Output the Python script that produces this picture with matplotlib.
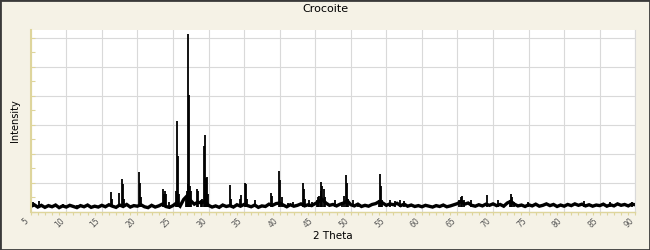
import numpy as np
import matplotlib
matplotlib.use('Agg')
import matplotlib.pyplot as plt
from matplotlib.patches import Rectangle
from matplotlib.ticker import MultipleLocator

# -----------------------------------------------------------------------------
# Crocoite powder pattern (intensity in grid units)
# -----------------------------------------------------------------------------

# background trace, every 0.5 deg from 5 to 90
base_theta = np.arange(5.0, 90.01, 0.5)
base_int = [
    0.18, 0.24, 0.16, 0.22, 0.15, 0.21, 0.17, 0.23, 0.14, 0.20,
    0.16, 0.22, 0.18, 0.14, 0.21, 0.17, 0.23, 0.15, 0.19, 0.16,
    0.22, 0.17, 0.24, 0.19, 0.15, 0.23, 0.18, 0.25, 0.16, 0.21,
    0.19, 0.24, 0.17, 0.14, 0.22, 0.16, 0.20, 0.26, 0.18, 0.15,
    0.21, 0.30, 0.19, 0.42, 0.55, 0.38, 0.26, 0.33, 0.30, 0.36,
    0.22, 0.16, 0.20, 0.15, 0.23, 0.18, 0.21, 0.16, 0.24, 0.19,
    0.25, 0.21, 0.17, 0.23, 0.15, 0.20, 0.18, 0.26, 0.22, 0.28,
    0.30, 0.23, 0.17, 0.24, 0.19, 0.22, 0.27, 0.20, 0.24, 0.21,
    0.28, 0.35, 0.42, 0.30, 0.22, 0.25, 0.20, 0.26, 0.30, 0.38,
    0.24, 0.20, 0.26, 0.18, 0.22, 0.19, 0.25, 0.28, 0.35, 0.30,
    0.22, 0.27, 0.24, 0.29, 0.21, 0.26, 0.19, 0.23, 0.18, 0.21,
    0.17, 0.22, 0.19, 0.16, 0.21, 0.18, 0.23, 0.17, 0.20, 0.24,
    0.28, 0.36, 0.26, 0.30, 0.22, 0.19, 0.24, 0.20, 0.26, 0.22,
    0.27, 0.21, 0.25, 0.19, 0.30, 0.36, 0.26, 0.20, 0.23, 0.18,
    0.24, 0.20, 0.26, 0.19, 0.22, 0.27, 0.21, 0.25, 0.18, 0.23,
    0.19, 0.25, 0.21, 0.27, 0.22, 0.26, 0.20, 0.24, 0.19, 0.23,
    0.21, 0.26, 0.19, 0.24, 0.20, 0.27, 0.22, 0.25, 0.20, 0.26,
    0.24,
]

# reflections: position (2 theta) and peak height
peak_theta = [
    5.37, 6.10, 6.50, 9.60, 11.50, 16.33, 16.45, 17.46, 17.88, 18.00,
    18.10, 20.27, 20.40, 20.55, 23.65, 23.78, 23.85, 24.03, 24.50, 25.45,
    25.58, 25.72, 25.85, 26.80, 26.95, 27.05, 27.17, 27.30, 27.42, 27.55,
    28.35, 28.50, 28.96, 29.10, 29.42, 29.56, 29.68, 29.75, 29.90, 33.07,
    33.20, 34.40, 34.53, 35.18, 35.30, 35.45, 36.55, 38.80, 38.94, 39.97,
    40.10, 40.30, 41.20, 41.93, 43.30, 43.40, 43.55, 44.10, 44.60, 45.30,
    45.45, 45.60, 45.75, 45.87, 46.00, 46.20, 46.35, 47.80, 48.80, 49.10,
    49.30, 49.45, 49.60, 50.37, 51.00, 53.90, 54.13, 54.27, 54.45, 55.50,
    56.20, 56.90, 57.50, 65.15, 65.55, 65.70, 65.85, 66.90, 69.20, 70.65,
    72.35, 72.50, 72.65, 73.00, 74.90, 82.80, 86.50, 89.50,
]
peak_int = [
    0.34, 0.36, 0.28, 0.26, 0.24, 0.68, 0.45, 0.66, 1.13, 0.96,
    0.45, 1.37, 0.99, 0.50, 0.78, 0.60, 0.72, 0.60, 0.34, 0.72,
    3.13, 1.92, 0.60, 0.55, 0.70, 0.95, 6.13, 4.02, 0.90, 0.70,
    0.80, 0.70, 0.40, 0.45, 2.28, 2.64, 1.15, 1.19, 0.60, 0.92,
    0.45, 0.45, 0.58, 1.00, 0.95, 0.45, 0.40, 0.66, 0.55, 1.40,
    1.10, 0.50, 0.30, 0.35, 1.00, 0.80, 0.45, 0.40, 0.35, 0.40,
    0.50, 0.55, 0.70, 1.03, 0.89, 0.80, 0.50, 0.40, 0.35, 0.55,
    1.28, 1.00, 0.45, 0.40, 0.30, 0.40, 1.31, 0.90, 0.40, 0.40,
    0.38, 0.42, 0.38, 0.40, 0.50, 0.54, 0.40, 0.42, 0.58, 0.42,
    0.42, 0.60, 0.50, 0.35, 0.35, 0.38, 0.32, 0.34,
]

x_ticks = list(range(5, 91, 5))

bg = '#f5f2e6'
axis_yellow = '#ded59c'
grid_grey = '#d9d9d9'

fig = plt.figure(figsize=(6.5, 2.5), dpi=100, facecolor=bg)
ax = fig.add_axes([0.0472, 0.1532, 0.9302, 0.7268])
ax.set_facecolor('white')

ax.plot(base_theta, base_int, color='black', linewidth=2.4, solid_joinstyle='miter')
ax.vlines(peak_theta, 0.15, peak_int, color='black', linewidth=1.3)

ax.set_xlim(5, 90)
ax.set_ylim(0, 6.27)

ax.set_xticks(x_ticks)
ax.set_xticklabels([str(t) for t in x_ticks], rotation=45, ha='right',
                   fontsize=5.5, color='#555555')
ax.xaxis.set_minor_locator(MultipleLocator(1))
ax.yaxis.set_major_locator(MultipleLocator(1))
ax.yaxis.set_minor_locator(MultipleLocator(0.5))
ax.set_yticklabels([])

ax.tick_params(axis='x', which='both', direction='out', length=2.5, width=0.8,
               color=axis_yellow, pad=1)
ax.tick_params(axis='y', which='both', direction='in', length=3, width=0.8,
               color=axis_yellow)

ax.grid(True, which='major', color=grid_grey, linewidth=0.8)
ax.set_axisbelow(True)

ax.spines['top'].set_visible(False)
ax.spines['right'].set_color(grid_grey)
ax.spines['right'].set_linewidth(0.8)
ax.spines['left'].set_color(axis_yellow)
ax.spines['left'].set_linewidth(1.5)
ax.spines['bottom'].set_color(axis_yellow)
ax.spines['bottom'].set_linewidth(1.0)

ax.set_xlabel('2 Theta', fontsize=7.5, labelpad=1)
ax.set_ylabel('Intensity', fontsize=7, labelpad=4)
fig.text(0.5, 0.962, 'Crocoite', ha='center', va='center', fontsize=8)

# frame round the whole picture
fig.patches.append(Rectangle((0, 0), 1, 1, transform=fig.transFigure,
                             fill=False, edgecolor='#3a3a3a', linewidth=2))

fig.savefig('out.png', dpi=100, facecolor=bg)
